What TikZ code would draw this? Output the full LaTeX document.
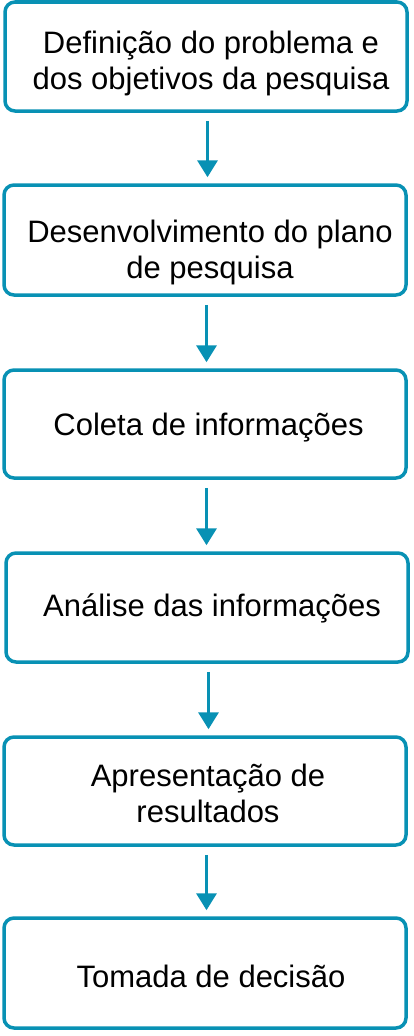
\documentclass[tikz,border=0pt]{standalone}
\usepackage{fontspec}
\setmainfont{Liberation Sans}
\usetikzlibrary{arrows.meta}
\definecolor{teal1}{RGB}{8,145,180}
\tikzset{
  stepbox/.style={draw=teal1, line width=3.5pt, rounded corners=10pt, fill=white,
    minimum width=402pt, inner sep=0pt},
  txt/.style={align=center, font=\fontsize{31}{36}\selectfont, text=black, inner sep=0pt},
  arr/.style={draw=teal1, line width=3.5pt, -{Triangle[width=20pt,length=17pt]}}
}
\begin{document}
\begin{tikzpicture}[x=1pt,y=-1pt]
\useasboundingbox (0,0) rectangle (414,1036);
\node[stepbox, minimum height=109pt] (b1) at (206,56.5) {};
\node[stepbox, minimum height=110pt] (b2) at (205,240) {};
\node[stepbox, minimum height=108pt] (b3) at (205,424) {};
\node[stepbox, minimum height=109pt] (b4) at (207,607.5) {};
\node[stepbox, minimum height=108pt] (b5) at (205,791) {};
\node[stepbox, minimum height=110pt] (b6) at (205,973) {};
\node[txt, xshift=5pt, yshift=-7pt] (t1) at (b1.center) {Definição do problema e\\dos objetivos da pesquisa};
\node[txt, xshift=5pt, yshift=-12pt] (t2) at (b2.center) {Desenvolvimento do plano\\de pesquisa};
\node[txt, xshift=3.5pt, yshift=-4pt] (t3) at (b3.center) {Coleta de informações};
\node[txt, xshift=5pt, yshift=-1pt] (t4) at (b4.center) {Análise das informações};
\node[txt, xshift=3pt, yshift=-2pt] (t5) at (b5.center) {Apresentação de\\resultados};
\node[txt, xshift=6pt, yshift=-3pt] (t6) at (b6.center) {Tomada de decisão};
\foreach \a/\b in {b1/b2,b2/b3,b3/b4,b4/b5,b5/b6}{
  \draw[arr] ([xshift=1.5pt,yshift=-8pt]\a.south) -- ([xshift=1.5pt,yshift=6pt]\b.north -| \a.south);
}
\end{tikzpicture}
\end{document}
